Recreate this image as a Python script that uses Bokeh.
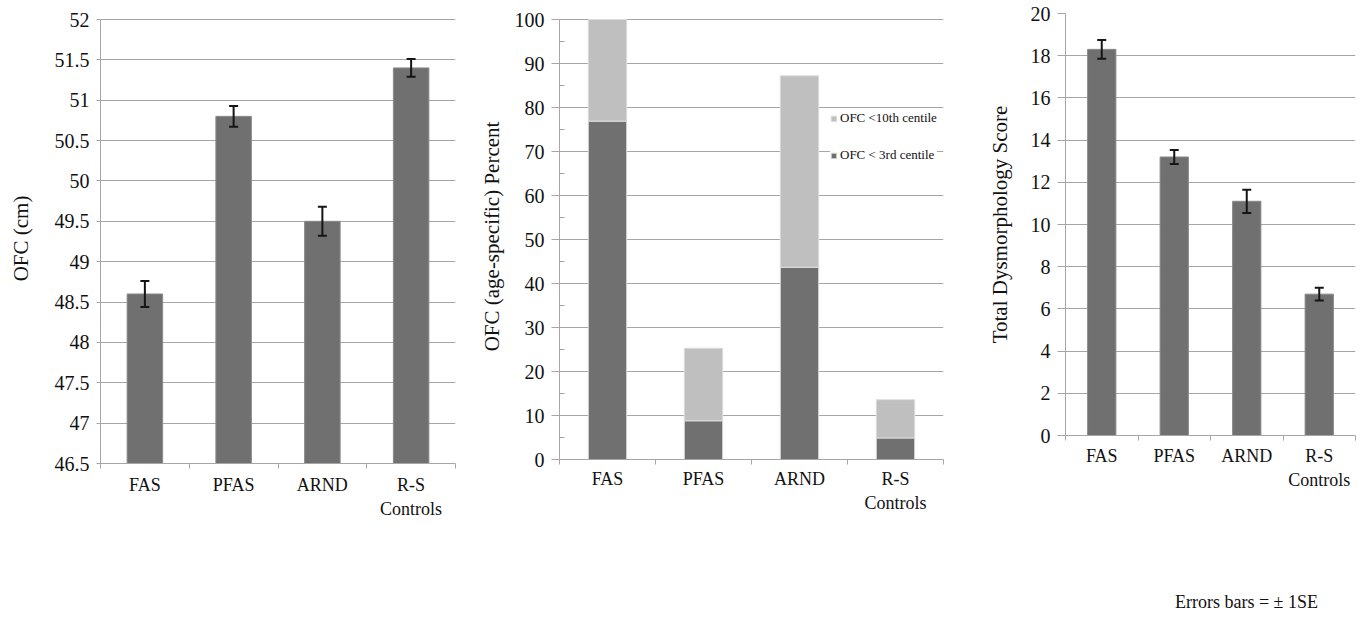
import numpy as np
from bokeh.plotting import figure
from bokeh.layouts import row
from bokeh.models import (Range1d, FixedTicker, ColumnDataSource, Whisker, TeeHead,
                          Legend, LegendItem)
from bokeh.embed import file_html
from bokeh.resources import INLINE

# ---------------- data ----------------
categories = ["FAS", "PFAS", "ARND", "R-S Controls"]
category_labels = ["FAS", "PFAS", "ARND", "R-S\nControls"]

# Panel 1: OFC (cm), mean and SE
ofc_cm = [48.6, 50.8, 49.5, 51.4]
ofc_cm_se = [0.16, 0.13, 0.18, 0.11]
ofc_ticks = [46.5, 47, 47.5, 48, 48.5, 49, 49.5, 50, 50.5, 51, 51.5, 52]

# Panel 2: OFC (age-specific) percent
pct_below_3rd = [76.9, 8.8, 43.7, 4.9]
pct_below_10th = [100, 25.3, 87.2, 13.6]
pct_ticks = [0, 10, 20, 30, 40, 50, 60, 70, 80, 90, 100]
pct_minor_ticks = [5, 15, 25, 35, 45, 55, 65, 75, 85, 95]
legend_labels = ["OFC <10th centile", "OFC < 3rd centile"]

# Panel 3: total dysmorphology score, mean and SE
dysmorph = [18.3, 13.2, 11.1, 6.7]
dysmorph_se = [0.45, 0.33, 0.55, 0.30]
dysmorph_ticks = [0, 2, 4, 6, 8, 10, 12, 14, 16, 18, 20]
note_text = "Errors bars = \u00b1 1SE"

# ---------------- style ----------------
FONT = "Liberation Serif"
DARK = "#707070"
LIGHT = "#bfbfbf"
GRID = "#a6a6a6"
TOTAL_H = 612
TOP = 13  # common frame top (frames in a row share their top edge)

n = len(categories)
centers = list(np.arange(n) + 0.5)
bounds = list(np.arange(n + 1).astype(float))


def make_fig(yticks, axis_h, extra_top, frame_w, mbl, mbr,
             tick_out, y_label, title_standoff, x_standoff, yminor=None):
    # axis_h: pixel height of the labelled axis; extra_top: blank pixels above it
    y0, y1 = yticks[0], yticks[-1]
    y_end = y1 + extra_top * (y1 - y0) / axis_h
    frame_h = axis_h + extra_top
    p = figure(x_range=Range1d(0, n), y_range=Range1d(y0, y_end),
               frame_width=frame_w, frame_height=frame_h,
               min_border_left=mbl, min_border_right=mbr, min_border_top=TOP,
               min_border_bottom=TOTAL_H - TOP - frame_h,
               output_backend="svg", toolbar_location=None,
               background_fill_color="white", border_fill_color="white")
    p.outline_line_color = None
    p.xgrid.visible = False
    p.ygrid.grid_line_color = GRID
    p.ygrid.grid_line_width = 1.2

    # x axis: labels at centers, tick marks at category boundaries
    xa = p.xaxis[0]
    xa.ticker = FixedTicker(ticks=centers, minor_ticks=bounds)
    xa.major_label_overrides = {c: lab for c, lab in zip(centers, category_labels)}
    xa.major_tick_out = 0
    xa.major_tick_in = 0
    xa.minor_tick_out = 5
    xa.minor_tick_in = 0
    xa.minor_tick_line_color = GRID
    xa.axis_line_color = GRID
    xa.major_label_text_font = FONT
    xa.major_label_text_font_size = "18px"
    xa.major_label_text_color = "#111111"
    xa.major_label_standoff = x_standoff

    ya = p.yaxis[0]
    ya.bounds = (y0, y1)
    if yminor is not None:
        ya.ticker = FixedTicker(ticks=yticks, minor_ticks=yminor)
        ya.minor_tick_in = 5
        ya.minor_tick_out = 0
        ya.minor_tick_line_color = GRID
    else:
        ya.ticker = FixedTicker(ticks=yticks)
        ya.minor_tick_line_color = None
    ya.major_label_overrides = {float(t): f"{t:g}" for t in yticks}
    ya.major_tick_out = tick_out
    ya.major_tick_in = 0
    ya.major_tick_line_color = GRID
    ya.axis_line_color = GRID
    ya.major_label_text_font = FONT
    ya.major_label_text_font_size = "20px"
    ya.major_label_text_color = "#111111"
    ya.major_label_standoff = 7
    ya.axis_label = y_label
    ya.axis_label_text_font = FONT
    ya.axis_label_text_font_size = "21px"
    ya.axis_label_text_font_style = "normal"
    ya.axis_label_text_color = "#111111"
    ya.axis_label_standoff = title_standoff
    return p


def add_errorbars(p, xs, vals, ses):
    src = ColumnDataSource(dict(
        x=xs,
        lower=[v - s for v, s in zip(vals, ses)],
        upper=[v + s for v, s in zip(vals, ses)],
    ))
    w = Whisker(source=src, base="x", lower="lower", upper="upper",
                dimension="height", line_color="#151515", line_width=2,
                level="overlay",
                upper_head=TeeHead(size=9, line_color="#151515", line_width=2),
                lower_head=TeeHead(size=9, line_color="#151515", line_width=2))
    p.add_layout(w)


# ---------------- panel 1 ----------------
p1 = make_fig(ofc_ticks, 444, 6, 355, 100, 5, 4, "OFC (cm)", 19, 6)
p1.vbar(x=centers, top=ofc_cm, bottom=ofc_ticks[0], width=0.4,
        fill_color=DARK, line_color="#8a8a8a")
add_errorbars(p1, centers, ofc_cm, ofc_cm_se)

# ---------------- panel 2 ----------------
p2 = make_fig(pct_ticks, 440, 6, 384, 99, 30, 8, "OFC (age-specific) Percent", 8, 4,
              yminor=pct_minor_ticks)
r_dark = p2.vbar(x=centers, top=pct_below_3rd, bottom=0, width=0.4,
                 fill_color=DARK, line_color="#dddddd", line_width=1)
r_light = p2.vbar(x=centers, top=pct_below_10th, bottom=pct_below_3rd, width=0.4,
                  fill_color=LIGHT, line_color="#dddddd", line_width=1)
legend = Legend(items=[LegendItem(label=legend_labels[0], renderers=[r_light]),
                       LegendItem(label=legend_labels[1], renderers=[r_dark])],
                location=(271, 296), glyph_width=7, glyph_height=7,
                label_text_font=FONT, label_text_font_size="13px",
                label_text_color="#111111", label_standoff=3, label_height=16,
                spacing=21, padding=6, margin=0, border_line_color=None,
                background_fill_color="white", background_fill_alpha=1.0)
p2.add_layout(legend)

# ---------------- panel 3 ----------------
p3 = make_fig(dysmorph_ticks, 422, 0, 290, 92, 8, 8, "Total Dysmorphology Score", 16, 5)
p3.vbar(x=centers, top=dysmorph, bottom=0, width=0.39,
        fill_color=DARK, line_color="#8a8a8a")
add_errorbars(p3, centers, dysmorph, dysmorph_se)
# footnote below the axis, shifted right of the axis centre with no-break spaces
xa3 = p3.xaxis[0]
xa3.axis_label = "\u00a0" * 16 + note_text
xa3.axis_label_text_font = FONT
xa3.axis_label_text_font_size = "18px"
xa3.axis_label_text_font_style = "normal"
xa3.axis_label_text_color = "#111111"
xa3.axis_label_standoff = 99

layout = row(p1, p2, p3)
open("out.html", "w").write(file_html(layout, INLINE))
